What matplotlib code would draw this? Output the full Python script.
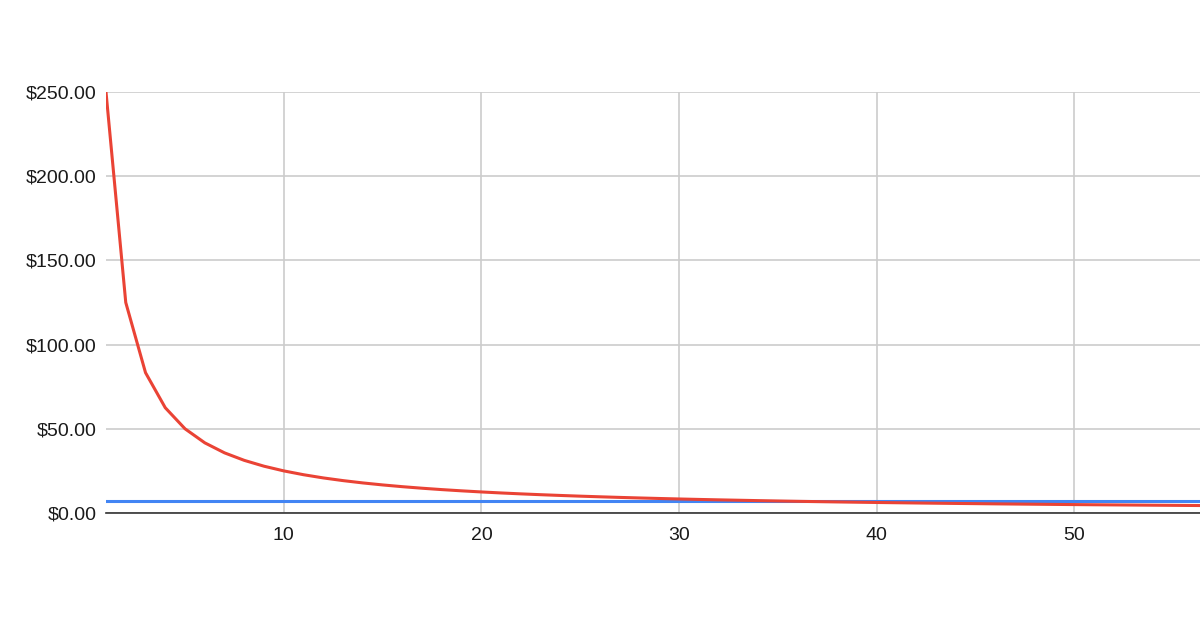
import matplotlib.pyplot as plt
from matplotlib.ticker import FuncFormatter

# x positions and the two series
periods = list(range(1, 58))
red_values = [250.00, 125.00, 83.33, 62.50, 50.00, 41.67, 35.71, 31.25, 27.78, 25.00,
              22.73, 20.83, 19.23, 17.86, 16.67, 15.63, 14.71, 13.89, 13.16, 12.50,
              11.90, 11.36, 10.87, 10.42, 10.00, 9.62, 9.26, 8.93, 8.62, 8.33,
              8.06, 7.81, 7.58, 7.35, 7.14, 6.94, 6.76, 6.58, 6.41, 6.25,
              6.10, 5.95, 5.81, 5.68, 5.56, 5.43, 5.32, 5.21, 5.10, 5.00,
              4.90, 4.81, 4.72, 4.63, 4.55, 4.46, 4.39]
blue_values = [7.2] * len(periods)

x_ticks = [10, 20, 30, 40, 50]
y_ticks = [0, 50, 100, 150, 200, 250]

plt.rcParams['font.family'] = ['Liberation Sans', 'DejaVu Sans']

fig = plt.figure(figsize=(12, 6.28), dpi=100)
ax = fig.add_axes([106 / 1200, 115 / 628, 1 - 106 / 1200, 421 / 628])

ax.plot(periods, blue_values, color="#4285f4", linewidth=2.2, zorder=3)
ax.plot(periods, red_values, color="#ea4335", linewidth=2.2, zorder=4)

ax.set_xlim(1, 56.37)
ax.set_ylim(0, 250)
ax.set_xticks(x_ticks)
ax.set_yticks(y_ticks)
ax.yaxis.set_major_formatter(FuncFormatter(lambda v, p: "${:,.2f}".format(v)))

ax.grid(True, color="#cccccc", linewidth=1.2, zorder=0)
ax.set_axisbelow(True)
for side in ["top", "right", "left"]:
    ax.spines[side].set_visible(False)
ax.spines["bottom"].set_color("#333333")
ax.spines["bottom"].set_linewidth(1.2)
ax.spines["bottom"].set_zorder(5)

ax.tick_params(axis="both", length=0, labelsize=14, colors="#1a1a1a")
ax.tick_params(axis="y", pad=7)
ax.tick_params(axis="x", pad=10)

fig.savefig("out.png", dpi=100, facecolor="white")
